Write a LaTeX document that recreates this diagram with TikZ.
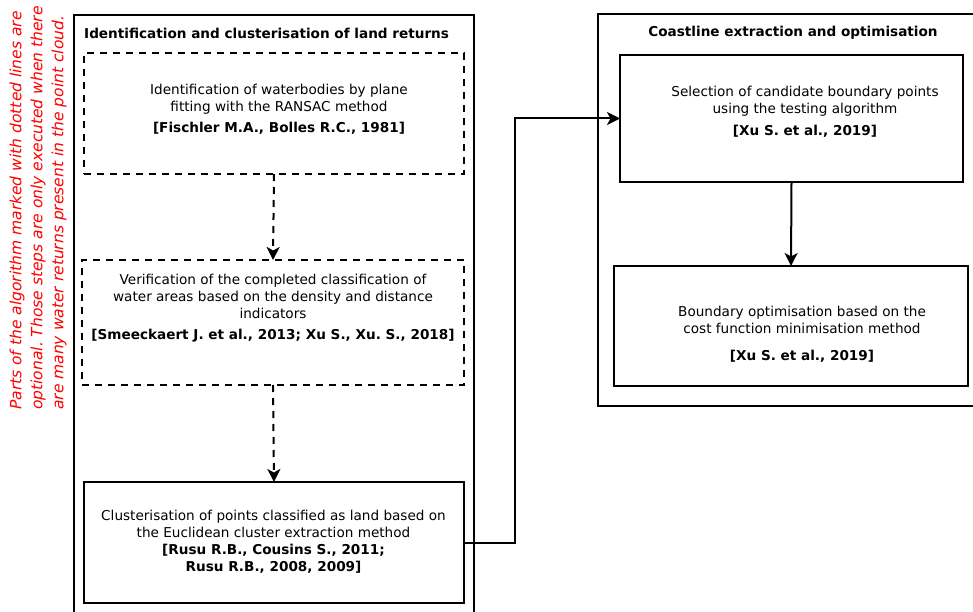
\documentclass[tikz,border=0pt]{standalone}
\usepackage{fontspec}
\setmainfont{DejaVu Sans}
\usetikzlibrary{arrows.meta,calc}
\frenchspacing
\begin{document}
\begin{tikzpicture}[x=1pt,y=-1pt,
  frame/.style={draw,line width=2pt},
  box/.style={draw,line width=2pt,inner sep=0pt,outer sep=0pt},
  dbox/.style={box,dash pattern=on 7pt off 6pt},
  txt/.style={align=center,inner sep=0pt,font=\fontsize{13.6}{17}\selectfont},
  ttl/.style={inner sep=0pt,font=\fontsize{13.6}{15}\selectfont\bfseries},
  arr/.style={line width=2pt,-{Stealth[length=13pt,width=13pt,inset=3.5pt]}},
  darr/.style={arr,dash pattern=on 7pt off 6pt}]
\useasboundingbox (0,0) rectangle (973,612);
\clip (0,0) rectangle (973,612);
% outer frames
\draw[frame] (74,640) -- (74,15) -- (474,15) -- (474,640);
\draw[frame] (1000,14) -- (598,14) -- (598,406) -- (1000,406);
\node[ttl,anchor=west] (lt) at (84,33) {Identification and clusterisation of land returns};
\node[ttl] (rt) at (793,33) {Coastline extraction and optimisation};
% side note
\node[rotate=90,anchor=west,align=left,inner sep=0pt,text=red,
  font=\fontsize{15.5}{21}\selectfont\itshape] (note) at (38,410)
  {Parts of the algorithm marked with dotted lines are\\optional. Those steps are only executed when there\\are many water returns present in the point cloud.};
% boxes
\node[dbox,minimum width=380pt,minimum height=121pt] (b1) at (274,113.5) {};
\node[dbox,minimum width=382pt,minimum height=125pt] (b2) at (273,322.5) {};
\node[box,minimum width=380pt,minimum height=121pt] (b3) at (274,542.5) {};
\node[box,minimum width=343pt,minimum height=127pt] (b4) at (791.5,118.5) {};
\node[box,minimum width=354pt,minimum height=120pt] (b5) at (791,326) {};
% texts
\node[txt] (t1) at (279,109) {Identification of waterbodies by plane\\fitting with the RANSAC method\\[4pt]\textbf{[Fischler M.A., Bolles R.C., 1981]}};
\node[txt] (t2) at (273,308) {Verification of the completed classification of\\water areas based on the density and distance\\indicators\\[4pt]\textbf{[Smeeckaert J. et al., 2013; Xu S., Xu. S., 2018]}};
\node[txt] (t3) at (273.5,542) {Clusterisation of points classified as land based on\\the Euclidean cluster extraction method\\\textbf{[Rusu R.B., Cousins S., 2011;}\\\textbf{Rusu R.B., 2008, 2009]}};
\node[txt] (t4) at (805,112) {Selection of candidate boundary points\\using the testing algorithm\\[5pt]\textbf{[Xu S. et al., 2019]}};
\node[txt] (t5) at (802,334) {Boundary optimisation based on the\\cost function minimisation method\\[10pt]\textbf{[Xu S. et al., 2019]}};
% connectors
\draw[darr] (b1.south) -- (b2.north);
\draw[darr] (b2.south) -- (b3.north);
\draw[arr] (b4.south) -- (b5.north);
\coordinate (bend) at (515,118.5);
\draw[arr] (b3.east) -| (bend) -- (bend -| b4.west);
\end{tikzpicture}
\end{document}
